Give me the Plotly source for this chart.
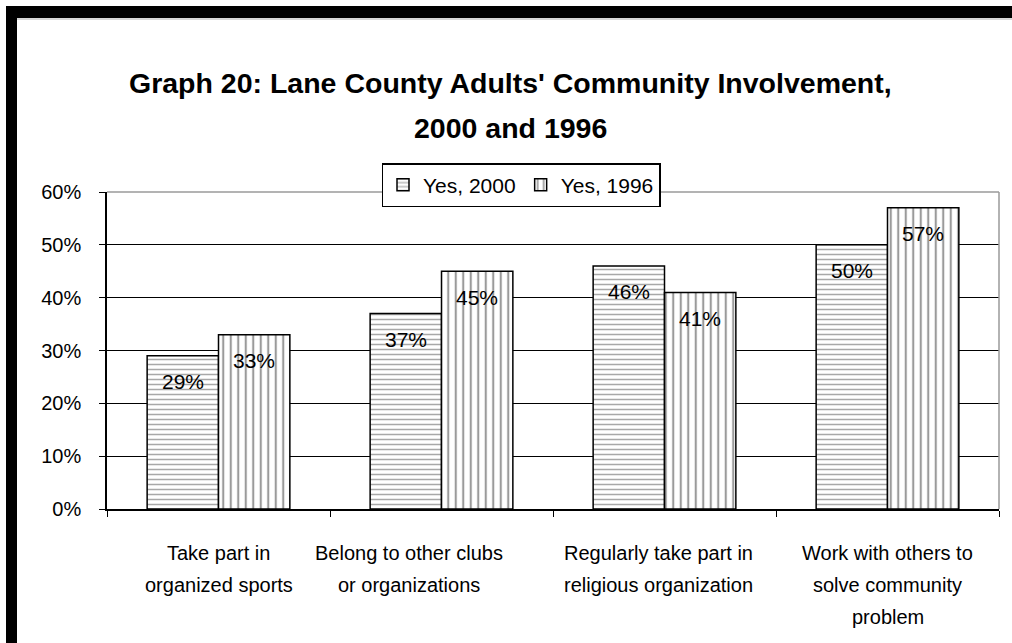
import plotly.graph_objects as go

# Survey results: share of Lane County adults answering "Yes"
categories = [
    "Take part in<br>organized sports",
    "Belong to other clubs<br>or organizations",
    "Regularly take part in<br>religious organization",
    "Work with others to<br>solve community<br>problem",
]
yes_2000 = [0.29, 0.37, 0.46, 0.50]
yes_1996 = [0.33, 0.45, 0.41, 0.57]

y_tick_values = [0.0, 0.1, 0.2, 0.3, 0.4, 0.5, 0.6]
y_tick_labels = ["0%", "10%", "20%", "30%", "40%", "50%", "60%"]

title_lines = ["Graph 20: Lane County Adults' Community Involvement,", "2000 and 1996"]

FONT = "Liberation Sans, Arial, sans-serif"
W, H = 1012, 643
M_L, M_R, M_T, M_B = 107, 13, 192, 134
PLOT_W = W - M_L - M_R
PLOT_H = H - M_T - M_B
BARGAP = 0.36
LABEL_TOP = 553      # centre of the first category-label line (px from top)
LABEL_STEP = 32      # spacing between category-label lines (px)
LABEL_NUDGE = [0, -33, -6, 0]   # horizontal nudge of each category label block (px)


def px_x(px):
    """Horizontal pixel position -> paper coordinate."""
    return (px - M_L) / PLOT_W


def px_y(py):
    """Vertical pixel position (from top) -> paper coordinate."""
    return (H - M_B - py) / PLOT_H


fig = go.Figure()

fig.add_trace(go.Bar(
    name="Yes, 2000",
    x=list(range(len(categories))),
    y=yes_2000,
    marker=dict(
        color="white",
        line=dict(color="black", width=1.5),
        pattern=dict(shape="-", size=5, solidity=0.3,
                     fgcolor="#a8a8a8", bgcolor="white", fillmode="replace"),
    ),
))
fig.add_trace(go.Bar(
    name="Yes, 1996",
    x=list(range(len(categories))),
    y=yes_1996,
    marker=dict(
        color="white",
        line=dict(color="black", width=1.5),
        pattern=dict(shape="|", size=7.5, solidity=0.28,
                     fgcolor="#9a9a9a", bgcolor="white", fillmode="replace"),
    ),
))

annotations = []

# Percentage labels just inside the top of each bar
half = (1 - BARGAP) / 4
for i, (a, b) in enumerate(zip(yes_2000, yes_1996)):
    for xpos, val in ((i - half, a), (i + half, b)):
        annotations.append(dict(
            x=xpos, y=val, xref="x", yref="y",
            text=f"{round(val * 100)}%", showarrow=False,
            yanchor="middle", xanchor="center", yshift=-26,
            font=dict(family=FONT, size=21, color="black"),
        ))

# Category labels below the axis, one line at a time for wide line spacing
for i, cat in enumerate(categories):
    for k, line in enumerate(cat.split("<br>")):
        annotations.append(dict(
            x=i, y=px_y(LABEL_TOP + k * LABEL_STEP), xref="x", yref="paper",
            text=line, showarrow=False, xshift=LABEL_NUDGE[i],
            xanchor="center", yanchor="middle",
            font=dict(family=FONT, size=20, color="black"),
        ))

# Two-line bold title
for line, py in zip(title_lines, (83, 128)):
    annotations.append(dict(
        x=px_x(510), y=px_y(py), xref="paper", yref="paper",
        text=f"<b>{line}</b>", showarrow=False,
        xanchor="center", yanchor="middle",
        font=dict(family=FONT, size=28.5, color="black"),
    ))

shapes = [
    # top and right plot-area border in grey
    dict(type="line", xref="paper", yref="paper", x0=0, x1=1, y0=1, y1=1,
         line=dict(color="#9a9a9a", width=1.5)),
    dict(type="line", xref="paper", yref="paper", x0=1, x1=1, y0=0, y1=1,
         line=dict(color="#9a9a9a", width=1.5)),
    # heavy black frame along the top and left of the page
    dict(type="rect", xref="paper", yref="paper",
         x0=px_x(6), x1=px_x(W + 5), y0=px_y(18), y1=px_y(6),
         fillcolor="black", line=dict(width=0), layer="above"),
    dict(type="rect", xref="paper", yref="paper",
         x0=px_x(6), x1=px_x(17), y0=px_y(H + 5), y1=px_y(6),
         fillcolor="black", line=dict(width=0), layer="above"),
    dict(type="line", xref="paper", yref="paper",
         x0=px_x(17), x1=px_x(W + 5), y0=px_y(19), y1=px_y(19),
         line=dict(color="#b0b0b0", width=1)),
]

fig.update_layout(
    width=W, height=H,
    margin=dict(l=M_L, r=M_R, t=M_T, b=M_B, pad=0),
    paper_bgcolor="white", plot_bgcolor="white",
    barmode="group", bargap=BARGAP, bargroupgap=0,
    font=dict(family=FONT, size=20, color="black"),
    showlegend=True,
    legend=dict(
        orientation="h",
        x=px_x(521), xanchor="center",
        y=px_y(163), yanchor="top",
        bgcolor="white", bordercolor="black", borderwidth=1.5,
        font=dict(family=FONT, size=21, color="black"),
        itemwidth=30, tracegroupgap=0,
    ),
    annotations=annotations,
    shapes=shapes,
)

fig.update_xaxes(
    range=[-0.5, len(categories) - 0.5],
    tickvals=[i + 0.5 for i in range(-1, len(categories))],
    showticklabels=False,
    showline=True, linecolor="black", linewidth=1.5,
    ticks="outside", ticklen=6, tickcolor="black",
    showgrid=False, zeroline=False,
)

fig.update_yaxes(
    range=[0, 0.6],
    tickvals=y_tick_values, ticktext=y_tick_labels,
    showline=True, linecolor="black", linewidth=1.5,
    ticks="outside", ticklen=6, tickcolor="black",
    tickfont=dict(family=FONT, size=20, color="black"),
    showgrid=True, gridcolor="black", gridwidth=1.2,
    zeroline=False,
    ticklabelstandoff=14,
)

fig.write_html("out.html")
